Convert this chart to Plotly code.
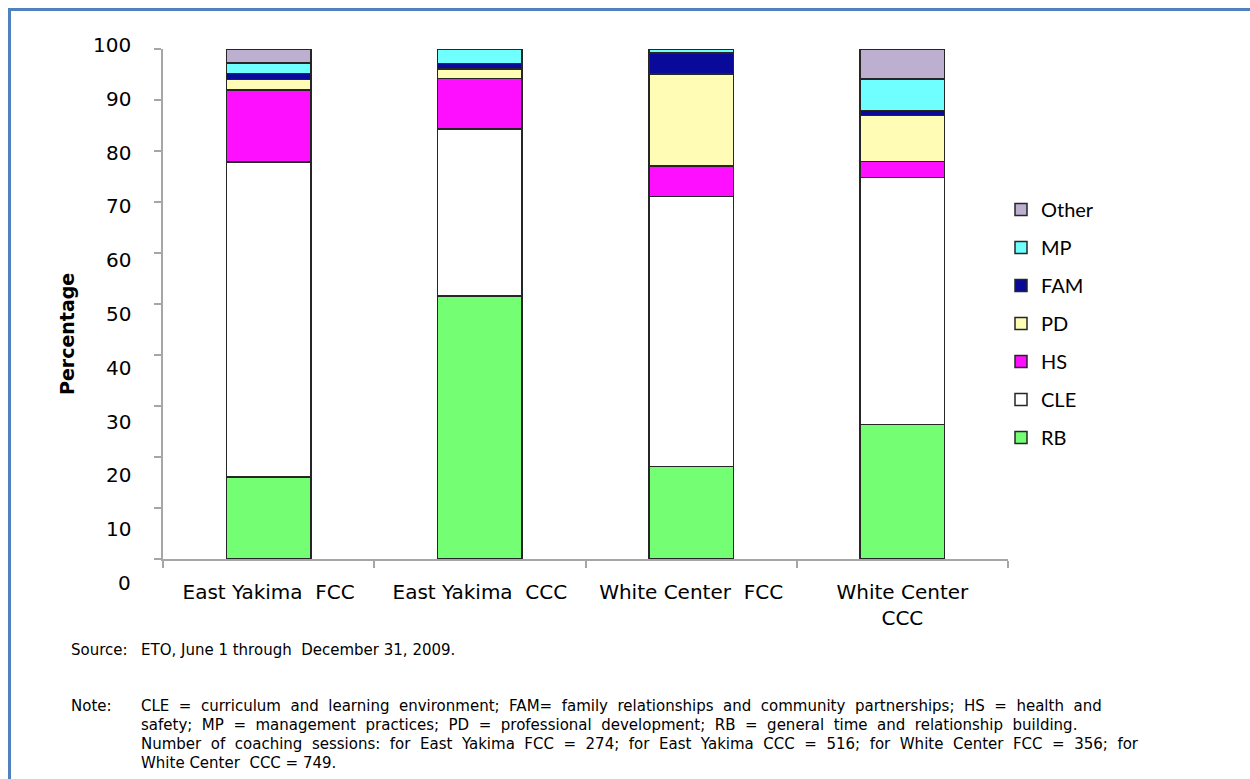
import plotly.graph_objects as go

# ---- data (percent of coaching sessions by content area) ----
sites = ["East Yakima\u00a0 FCC", "East Yakima\u00a0 CCC", "White Center\u00a0 FCC", "White Center<br>CCC"]
rb = [16.1, 51.6, 18.1, 26.4]
cle = [61.7, 32.7, 53.0, 48.4]
hs = [14.2, 9.9, 6.0, 3.1]
pd_share = [2.0, 1.9, 18.0, 9.1]
fam = [1.2, 1.1, 4.1, 0.9]
mp = [2.1, 2.8, 0.8, 6.2]
other = [2.7, 0.0, 0.0, 5.9]

series_names = ["RB", "CLE", "HS", "PD", "FAM", "MP", "Other"]
series_values = [rb, cle, hs, pd_share, fam, mp, other]
series_colors = ["#73FE73", "#FFFFFF", "#FF0FFF", "#FFFDB5", "#0A0A9A", "#70FFFF", "#BCAFD0"]

y_ticks = [0, 10, 20, 30, 40, 50, 60, 70, 80, 90, 100]

source_text = "ETO, June 1 through\u00a0 December 31, 2009."
note_lines = [
    "CLE = curriculum and learning environment; FAM= family relationships and community partnerships; HS = health and",
    "safety; MP = management practices; PD = professional development; RB = general time and relationship building.",
    "Number of coaching sessions: for East Yakima FCC = 274; for East Yakima CCC = 516; for White Center FCC = 356; for",
    "White Center\u00a0 CCC = 749.",
]
# the first three note lines run the full width of the box (justified paragraph)
justified = [True, True, True, False]

# ---- canvas geometry ----
W, H = 1250, 779
L, R, T, B = 163, 242, 49, 220
PW, PH = W - L - R, H - T - B


def px(x):
    return (x - L) / PW


def py(y):
    return (H - B - y) / PH


def spread(line):
    # widen the word gaps of a justified line
    return "\u00a0 ".join(line.split(" "))


TEXT_FONT = "DejaVu Sans"
AXIS_GREY = "#A6A6A6"

fig = go.Figure()
for rank, (name, vals, color) in enumerate(zip(series_names, series_values, series_colors)):
    fig.add_trace(go.Bar(
        name=name,
        x=sites,
        y=vals,
        marker=dict(color=color, line=dict(color="#262626", width=1.5)),
        legendgroup=name,
        legendrank=len(series_names) - rank,
        cliponaxis=False,
        hoverinfo="x+y+name",
    ))

annotations = []
# value labels on the left of the y axis
for v in y_ticks:
    annotations.append(dict(
        text=str(v), x=px(133), y=py(45 + (100 - v) * 5.38),
        xref="paper", yref="paper", xanchor="right", yanchor="middle",
        showarrow=False, font=dict(family=TEXT_FONT, size=20, color="#000000"),
    ))
# y axis title
annotations.append(dict(
    text="<b>Percentage</b>", x=px(67), y=py(334), textangle=-90,
    xref="paper", yref="paper", xanchor="center", yanchor="middle",
    showarrow=False, font=dict(family=TEXT_FONT, size=19, color="#000000"),
))
# source and notes
small = dict(family=TEXT_FONT, size=15, color="#000000")
annotations.append(dict(text="Source:", x=px(69), y=py(650), xref="paper", yref="paper",
                        xanchor="left", yanchor="middle", showarrow=False, font=small))
annotations.append(dict(text=source_text, x=px(139), y=py(650), xref="paper", yref="paper",
                        xanchor="left", yanchor="middle", showarrow=False, font=small))
annotations.append(dict(text="Note:", x=px(69), y=py(706), xref="paper", yref="paper",
                        xanchor="left", yanchor="middle", showarrow=False, font=small))
for i, (line, just) in enumerate(zip(note_lines, justified)):
    annotations.append(dict(text=spread(line) if just else line,
                            x=px(139), y=py(706 + 19 * i), xref="paper", yref="paper",
                            xanchor="left", yanchor="middle", showarrow=False, font=small))

frame = dict(color="#4F81BD", width=3)

fig.update_layout(
    width=W, height=H,
    margin=dict(l=L, r=R, t=T, b=B, pad=0),
    paper_bgcolor="#FFFFFF", plot_bgcolor="#FFFFFF",
    barmode="stack", bargap=0.6,
    showlegend=True,
    legend=dict(
        x=px(1001), y=py(323.5), xanchor="left", yanchor="middle",
        traceorder="grouped", tracegroupgap=9,
        font=dict(family="Lato", size=20, color="#000000"),
        bgcolor="rgba(0,0,0,0)", itemwidth=30,
    ),
    xaxis=dict(
        type="category", showline=True, linecolor=AXIS_GREY, linewidth=1.5,
        ticks="outside", tickson="boundaries", ticklen=7, tickcolor=AXIS_GREY, tickwidth=1.5,
        showgrid=False, zeroline=False, ticklabelstandoff=14,
        tickfont=dict(family=TEXT_FONT, size=20, color="#000000"),
    ),
    yaxis=dict(
        range=[0, 100], tickvals=y_ticks, showticklabels=False,
        showline=True, linecolor=AXIS_GREY, linewidth=1.5,
        ticks="outside", ticklen=7, tickcolor=AXIS_GREY, tickwidth=1.5,
        showgrid=False, zeroline=False,
    ),
    annotations=annotations,
    shapes=[
        # page frame: top and left edges
        dict(type="line", xref="paper", yref="paper",
             x0=px(8), y0=py(9.5), x1=px(W + 5), y1=py(9.5), line=frame, layer="above"),
        dict(type="line", xref="paper", yref="paper",
             x0=px(9.5), y0=py(8), x1=px(9.5), y1=py(H + 5), line=frame, layer="above"),
    ],
)

fig.write_html("out.html")
